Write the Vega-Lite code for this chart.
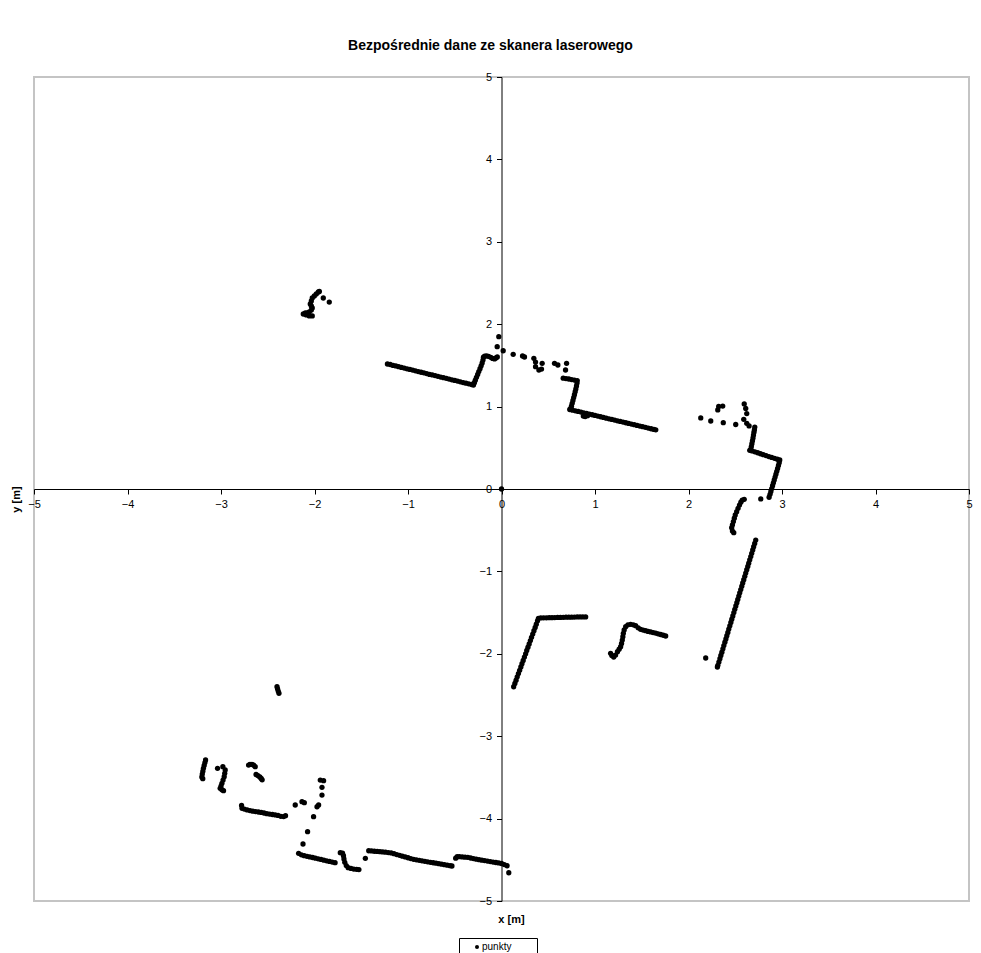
{
"$schema": "https://vega.github.io/schema/vega-lite/v6.json",
"width": 935, "height": 824,
"autosize": {"type": "none"},
"padding": {"left": 34, "top": 77, "right": 12, "bottom": 52},
"background": "white",
"title": {"text": "Bezpośrednie dane ze skanera laserowego", "font": "Liberation Sans", "fontSize": 14, "fontWeight": "bold", "color": "black", "anchor": "middle", "frame": "group", "baseline": "alphabetic", "offset": 7, "dx": -11},
"data": {"values": [
{"x":0,"y":0},
{"x":-1.948,"y":2.397},{"x":-1.959,"y":2.391},{"x":-1.981,"y":2.367},{"x":-2.002,"y":2.342},{"x":-2.024,"y":2.318},{"x":-2.034,"y":2.282},{"x":-2.045,"y":2.245},{"x":-2.034,"y":2.221},{"x":-2.024,"y":2.197},{"x":-2.034,"y":2.172},{"x":-2.056,"y":2.148},{"x":-2.077,"y":2.136},{"x":-2.098,"y":2.136},{"x":-2.120,"y":2.124},{"x":-2.088,"y":2.112},{"x":-2.056,"y":2.100},{"x":-2.024,"y":2.100},{"x":-1.906,"y":2.318},{"x":-1.842,"y":2.269},
{"x":-1.22,"y":1.517},{"x":-1.19,"y":1.511},{"x":-1.16,"y":1.500},{"x":-1.13,"y":1.494},{"x":-1.10,"y":1.484},{"x":-1.07,"y":1.476},{"x":-1.04,"y":1.467},{"x":-1.01,"y":1.458},{"x":-0.98,"y":1.451},{"x":-0.95,"y":1.443},{"x":-0.92,"y":1.434},{"x":-0.89,"y":1.425},{"x":-0.86,"y":1.417},{"x":-0.83,"y":1.410},{"x":-0.80,"y":1.401},{"x":-0.77,"y":1.391},{"x":-0.74,"y":1.384},{"x":-0.71,"y":1.377},{"x":-0.68,"y":1.367},{"x":-0.65,"y":1.358},{"x":-0.62,"y":1.351},{"x":-0.59,"y":1.343},{"x":-0.56,"y":1.334},{"x":-0.53,"y":1.325},{"x":-0.50,"y":1.318},{"x":-0.47,"y":1.310},{"x":-0.44,"y":1.301},{"x":-0.41,"y":1.292},{"x":-0.38,"y":1.284},{"x":-0.35,"y":1.276},{"x":-0.32,"y":1.268},{"x":-0.30,"y":1.262},
{"x":-0.290,"y":1.290},{"x":-0.280,"y":1.320},{"x":-0.268,"y":1.355},{"x":-0.255,"y":1.390},{"x":-0.243,"y":1.425},{"x":-0.230,"y":1.460},{"x":-0.218,"y":1.495},{"x":-0.207,"y":1.530},{"x":-0.198,"y":1.565},{"x":-0.193,"y":1.600},{"x":-0.180,"y":1.612},{"x":-0.160,"y":1.615},{"x":-0.139,"y":1.610},{"x":-0.115,"y":1.598},{"x":-0.095,"y":1.585},{"x":-0.075,"y":1.578},{"x":-0.060,"y":1.590},{"x":-0.045,"y":1.602},
{"x":-0.029,"y":1.848},{"x":-0.046,"y":1.727},{"x":0.018,"y":1.678},{"x":0.125,"y":1.635},{"x":0.225,"y":1.614},{"x":0.246,"y":1.602},{"x":0.346,"y":1.586},{"x":0.364,"y":1.541},{"x":0.364,"y":1.484},{"x":0.400,"y":1.444},{"x":0.435,"y":1.525},{"x":0.428,"y":1.456},{"x":0.567,"y":1.525},{"x":0.603,"y":1.505},{"x":0.696,"y":1.525},{"x":0.685,"y":1.444},
{"x":0.660,"y":1.345},{"x":0.690,"y":1.340},{"x":0.720,"y":1.335},{"x":0.750,"y":1.328},{"x":0.780,"y":1.322},{"x":0.810,"y":1.316},
{"x":0.808,"y":1.285},{"x":0.802,"y":1.250},{"x":0.795,"y":1.215},{"x":0.788,"y":1.180},{"x":0.780,"y":1.145},{"x":0.772,"y":1.110},{"x":0.764,"y":1.075},{"x":0.756,"y":1.040},{"x":0.748,"y":1.005},{"x":0.740,"y":0.975},
{"x":0.73,"y":0.965},{"x":0.76,"y":0.957},{"x":0.79,"y":0.949},{"x":0.82,"y":0.941},{"x":0.85,"y":0.933},{"x":0.88,"y":0.925},{"x":0.91,"y":0.917},{"x":0.94,"y":0.909},{"x":0.97,"y":0.901},{"x":1.00,"y":0.893},{"x":1.03,"y":0.885},{"x":1.06,"y":0.877},{"x":1.09,"y":0.869},{"x":1.12,"y":0.860},{"x":1.15,"y":0.852},{"x":1.18,"y":0.844},{"x":1.21,"y":0.836},{"x":1.24,"y":0.828},{"x":1.27,"y":0.820},{"x":1.30,"y":0.812},{"x":1.33,"y":0.804},{"x":1.36,"y":0.796},{"x":1.39,"y":0.788},{"x":1.42,"y":0.780},{"x":1.45,"y":0.772},{"x":1.48,"y":0.764},{"x":1.51,"y":0.756},{"x":1.54,"y":0.748},{"x":1.57,"y":0.740},{"x":1.60,"y":0.731},{"x":1.63,"y":0.723},{"x":1.65,"y":0.718},
{"x":0.875,"y":0.885},{"x":0.895,"y":0.880},{"x":0.920,"y":0.890},
{"x":2.131,"y":0.862},{"x":2.238,"y":0.825},{"x":2.323,"y":1.001},{"x":2.366,"y":1.007},{"x":2.313,"y":0.959},{"x":2.372,"y":0.805},{"x":2.505,"y":0.783},{"x":2.596,"y":1.032},{"x":2.612,"y":0.977},{"x":2.623,"y":0.916},{"x":2.591,"y":0.846},{"x":2.623,"y":0.797},{"x":2.648,"y":0.765},
{"x":2.709,"y":0.752},{"x":2.705,"y":0.720},{"x":2.700,"y":0.690},{"x":2.695,"y":0.655},{"x":2.690,"y":0.620},{"x":2.684,"y":0.585},{"x":2.678,"y":0.550},{"x":2.672,"y":0.515},{"x":2.665,"y":0.480},{"x":2.655,"y":0.470},
{"x":2.68,"y":0.462},{"x":2.71,"y":0.451},{"x":2.74,"y":0.440},{"x":2.77,"y":0.428},{"x":2.80,"y":0.417},{"x":2.83,"y":0.406},{"x":2.86,"y":0.394},{"x":2.89,"y":0.383},{"x":2.92,"y":0.372},{"x":2.95,"y":0.361},{"x":2.976,"y":0.352},
{"x":2.970,"y":0.320},{"x":2.962,"y":0.285},{"x":2.953,"y":0.250},{"x":2.944,"y":0.215},{"x":2.935,"y":0.180},{"x":2.926,"y":0.145},{"x":2.917,"y":0.110},{"x":2.908,"y":0.075},{"x":2.899,"y":0.040},{"x":2.890,"y":0.005},{"x":2.881,"y":-0.030},{"x":2.872,"y":-0.065},{"x":2.862,"y":-0.100},
{"x":2.773,"y":-0.121},
{"x":2.596,"y":-0.125},{"x":2.575,"y":-0.135},{"x":2.560,"y":-0.160},{"x":2.545,"y":-0.195},{"x":2.530,"y":-0.235},{"x":2.515,"y":-0.275},{"x":2.500,"y":-0.315},{"x":2.490,"y":-0.355},{"x":2.480,"y":-0.395},{"x":2.470,"y":-0.435},{"x":2.462,"y":-0.470},{"x":2.470,"y":-0.510},{"x":2.484,"y":-0.530},
{"x":2.719,"y":-0.62},{"x":2.708,"y":-0.66},{"x":2.697,"y":-0.70},{"x":2.687,"y":-0.74},{"x":2.676,"y":-0.78},{"x":2.666,"y":-0.82},{"x":2.655,"y":-0.86},{"x":2.644,"y":-0.90},{"x":2.634,"y":-0.94},{"x":2.623,"y":-0.98},{"x":2.612,"y":-1.02},{"x":2.602,"y":-1.06},{"x":2.591,"y":-1.10},{"x":2.580,"y":-1.14},{"x":2.570,"y":-1.18},{"x":2.559,"y":-1.22},{"x":2.548,"y":-1.26},{"x":2.538,"y":-1.30},{"x":2.527,"y":-1.34},{"x":2.517,"y":-1.38},{"x":2.506,"y":-1.42},{"x":2.495,"y":-1.46},{"x":2.485,"y":-1.50},{"x":2.474,"y":-1.54},{"x":2.463,"y":-1.58},{"x":2.453,"y":-1.62},{"x":2.442,"y":-1.66},{"x":2.431,"y":-1.70},{"x":2.421,"y":-1.74},{"x":2.410,"y":-1.78},{"x":2.400,"y":-1.82},{"x":2.389,"y":-1.86},{"x":2.378,"y":-1.90},{"x":2.368,"y":-1.94},{"x":2.357,"y":-1.98},{"x":2.346,"y":-2.02},{"x":2.336,"y":-2.06},{"x":2.325,"y":-2.10},{"x":2.314,"y":-2.14},{"x":2.309,"y":-2.16},
{"x":2.184,"y":-2.051},
{"x":0.130,"y":-2.40},{"x":0.143,"y":-2.36},{"x":0.156,"y":-2.32},{"x":0.168,"y":-2.28},{"x":0.181,"y":-2.24},{"x":0.194,"y":-2.20},{"x":0.207,"y":-2.16},{"x":0.219,"y":-2.12},{"x":0.232,"y":-2.08},{"x":0.245,"y":-2.04},{"x":0.258,"y":-2.00},{"x":0.270,"y":-1.96},{"x":0.283,"y":-1.92},{"x":0.296,"y":-1.88},{"x":0.309,"y":-1.84},{"x":0.321,"y":-1.80},{"x":0.334,"y":-1.76},{"x":0.347,"y":-1.72},{"x":0.360,"y":-1.68},{"x":0.372,"y":-1.64},{"x":0.385,"y":-1.60},{"x":0.395,"y":-1.57},
{"x":0.42,"y":-1.565},{"x":0.45,"y":-1.564},{"x":0.48,"y":-1.563},{"x":0.51,"y":-1.562},{"x":0.54,"y":-1.561},{"x":0.57,"y":-1.560},{"x":0.60,"y":-1.559},{"x":0.63,"y":-1.558},{"x":0.66,"y":-1.557},{"x":0.69,"y":-1.556},{"x":0.72,"y":-1.555},{"x":0.75,"y":-1.555},{"x":0.78,"y":-1.554},{"x":0.81,"y":-1.553},{"x":0.84,"y":-1.553},{"x":0.87,"y":-1.552},{"x":0.90,"y":-1.552},
{"x":1.167,"y":-1.994},{"x":1.180,"y":-2.020},{"x":1.200,"y":-2.040},{"x":1.220,"y":-2.015},{"x":1.240,"y":-1.975},{"x":1.258,"y":-1.945},{"x":1.274,"y":-1.914},{"x":1.284,"y":-1.875},{"x":1.292,"y":-1.833},{"x":1.298,"y":-1.792},{"x":1.303,"y":-1.751},{"x":1.312,"y":-1.710},{"x":1.328,"y":-1.671},{"x":1.352,"y":-1.648},{"x":1.381,"y":-1.642},{"x":1.410,"y":-1.648},{"x":1.435,"y":-1.659},{"x":1.462,"y":-1.685},{"x":1.488,"y":-1.703},{"x":1.515,"y":-1.712},{"x":1.542,"y":-1.720},{"x":1.568,"y":-1.728},{"x":1.595,"y":-1.735},{"x":1.622,"y":-1.742},{"x":1.649,"y":-1.748},{"x":1.675,"y":-1.757},{"x":1.702,"y":-1.766},{"x":1.730,"y":-1.775},{"x":1.756,"y":-1.784},
{"x":-2.401,"y":-2.399},{"x":-2.395,"y":-2.425},{"x":-2.388,"y":-2.452},{"x":-2.380,"y":-2.479},
{"x":-3.165,"y":-3.289},{"x":-3.172,"y":-3.320},{"x":-3.180,"y":-3.355},{"x":-3.188,"y":-3.390},{"x":-3.194,"y":-3.425},{"x":-3.200,"y":-3.460},{"x":-3.205,"y":-3.495},{"x":-3.195,"y":-3.515},
{"x":-3.037,"y":-3.390},{"x":-2.980,"y":-3.370},{"x":-2.955,"y":-3.410},{"x":-2.960,"y":-3.450},{"x":-2.966,"y":-3.491},{"x":-2.978,"y":-3.532},{"x":-2.990,"y":-3.572},{"x":-3.000,"y":-3.605},{"x":-3.009,"y":-3.632},{"x":-2.990,"y":-3.650},{"x":-2.973,"y":-3.661},
{"x":-2.705,"y":-3.350},{"x":-2.690,"y":-3.343},{"x":-2.669,"y":-3.341},{"x":-2.650,"y":-3.352},{"x":-2.634,"y":-3.370},
{"x":-2.625,"y":-3.465},{"x":-2.605,"y":-3.478},{"x":-2.585,"y":-3.495},{"x":-2.570,"y":-3.512},{"x":-2.560,"y":-3.530},
{"x":-2.780,"y":-3.840},{"x":-2.775,"y":-3.875},{"x":-2.75,"y":-3.885},{"x":-2.72,"y":-3.895},{"x":-2.69,"y":-3.903},{"x":-2.66,"y":-3.910},{"x":-2.63,"y":-3.915},{"x":-2.60,"y":-3.920},{"x":-2.57,"y":-3.925},{"x":-2.54,"y":-3.932},{"x":-2.51,"y":-3.940},{"x":-2.48,"y":-3.945},{"x":-2.45,"y":-3.950},{"x":-2.42,"y":-3.955},{"x":-2.39,"y":-3.962},{"x":-2.36,"y":-3.972},{"x":-2.33,"y":-3.975},{"x":-2.31,"y":-3.965},
{"x":-2.206,"y":-3.835},{"x":-2.134,"y":-3.795},{"x":-2.109,"y":-3.807},
{"x":-1.938,"y":-3.532},{"x":-1.903,"y":-3.540},{"x":-1.920,"y":-3.620},{"x":-1.920,"y":-3.714},{"x":-1.956,"y":-3.835},{"x":-1.973,"y":-3.856},{"x":-2.010,"y":-3.977},{"x":-2.074,"y":-4.159},{"x":-2.123,"y":-4.308},
{"x":-2.170,"y":-4.421},{"x":-2.14,"y":-4.440},{"x":-2.11,"y":-4.450},{"x":-2.08,"y":-4.458},{"x":-2.05,"y":-4.465},{"x":-2.02,"y":-4.472},{"x":-1.99,"y":-4.480},{"x":-1.96,"y":-4.488},{"x":-1.93,"y":-4.496},{"x":-1.90,"y":-4.505},{"x":-1.87,"y":-4.512},{"x":-1.84,"y":-4.520},{"x":-1.81,"y":-4.528},{"x":-1.78,"y":-4.535},
{"x":-1.724,"y":-4.414},{"x":-1.700,"y":-4.420},{"x":-1.690,"y":-4.450},{"x":-1.685,"y":-4.490},{"x":-1.676,"y":-4.530},{"x":-1.660,"y":-4.570},{"x":-1.640,"y":-4.595},{"x":-1.610,"y":-4.605},{"x":-1.580,"y":-4.612},{"x":-1.550,"y":-4.615},{"x":-1.525,"y":-4.618},
{"x":-1.456,"y":-4.482},
{"x":-1.42,"y":-4.390},{"x":-1.39,"y":-4.392},{"x":-1.36,"y":-4.396},{"x":-1.33,"y":-4.399},{"x":-1.30,"y":-4.402},{"x":-1.27,"y":-4.405},{"x":-1.24,"y":-4.408},{"x":-1.21,"y":-4.412},{"x":-1.18,"y":-4.416},{"x":-1.15,"y":-4.426},{"x":-1.12,"y":-4.436},{"x":-1.09,"y":-4.446},{"x":-1.06,"y":-4.456},{"x":-1.03,"y":-4.465},{"x":-1.00,"y":-4.475},{"x":-0.97,"y":-4.485},{"x":-0.94,"y":-4.494},{"x":-0.91,"y":-4.500},{"x":-0.88,"y":-4.506},{"x":-0.85,"y":-4.512},{"x":-0.82,"y":-4.518},{"x":-0.79,"y":-4.524},{"x":-0.76,"y":-4.530},{"x":-0.73,"y":-4.536},{"x":-0.70,"y":-4.541},{"x":-0.67,"y":-4.547},{"x":-0.64,"y":-4.553},{"x":-0.61,"y":-4.559},{"x":-0.58,"y":-4.565},{"x":-0.55,"y":-4.571},{"x":-0.53,"y":-4.575},
{"x":-0.49,"y":-4.480},{"x":-0.474,"y":-4.462},{"x":-0.45,"y":-4.462},{"x":-0.42,"y":-4.465},{"x":-0.39,"y":-4.468},{"x":-0.36,"y":-4.470},{"x":-0.33,"y":-4.478},{"x":-0.30,"y":-4.485},{"x":-0.27,"y":-4.492},{"x":-0.24,"y":-4.499},{"x":-0.21,"y":-4.505},{"x":-0.18,"y":-4.510},{"x":-0.15,"y":-4.516},{"x":-0.12,"y":-4.522},{"x":-0.09,"y":-4.528},{"x":-0.06,"y":-4.533},{"x":-0.03,"y":-4.538},{"x":0.00,"y":-4.545},{"x":0.03,"y":-4.558},{"x":0.06,"y":-4.572},
{"x":0.078,"y":-4.657}
]},
"mark": {"type": "point", "filled": true, "shape": "circle", "size": 28, "opacity": 1},
"encoding": {
  "x": {"field": "x", "type": "quantitative",
    "scale": {"domain": [-5, 5], "nice": false, "zero": false},
    "axis": {"orient": "bottom", "offset": -412, "values": [-5,-4,-3,-2,-1,0,1,2,3,4,5], "grid": false,
      "domainColor": "black", "domainWidth": 1, "tickColor": "black", "tickSize": 5, "tickWidth": 1,
      "labelFont": "Liberation Sans", "labelFontSize": 11, "labelColor": "black", "labelFlush": false, "labelOverlap": false, "labelPadding": 4,
      "title": "x [m]", "titleFont": "Liberation Sans", "titleFontSize": 11, "titleFontWeight": "bold", "titleColor": "black",
      "titleX": 477, "titleY": 430, "titleBaseline": "middle", "titleAlign": "center"}},
  "y": {"field": "y", "type": "quantitative",
    "scale": {"domain": [-5, 5], "nice": false, "zero": false},
    "axis": {"orient": "left", "offset": -467.5, "values": [-5,-4,-3,-2,-1,0,1,2,3,4,5], "grid": false,
      "domainColor": "black", "domainWidth": 1, "tickColor": "black", "tickSize": 5, "tickWidth": 1,
      "labelFont": "Liberation Sans", "labelFontSize": 11, "labelColor": "black", "labelFlush": false, "labelOverlap": false, "labelPadding": 5,
      "title": "y [m]", "titleFont": "Liberation Sans", "titleFontSize": 11, "titleFontWeight": "bold", "titleColor": "black",
      "titleX": -485.5, "titleY": 422, "titleAngle": 270, "titleBaseline": "middle", "titleAlign": "center"}},
  "color": {"datum": "punkty", "type": "nominal", "scale": {"range": ["black"]},
    "legend": {"title": null, "orient": "none", "legendX": 425, "legendY": 861, "strokeColor": "black", "fillColor": "white", "padding": 4,
      "symbolSize": 16, "symbolType": "circle", "symbolStrokeWidth": 0, "symbolOffset": 9, "labelOffset": 0,
      "labelFont": "Liberation Sans", "labelFontSize": 10, "labelColor": "black",
      "labelExpr": "datum.label + '\u2800\u2800\u2800'"}}
},
"config": {"view": {"stroke": "#c4c4c4", "strokeWidth": 2}}
}
